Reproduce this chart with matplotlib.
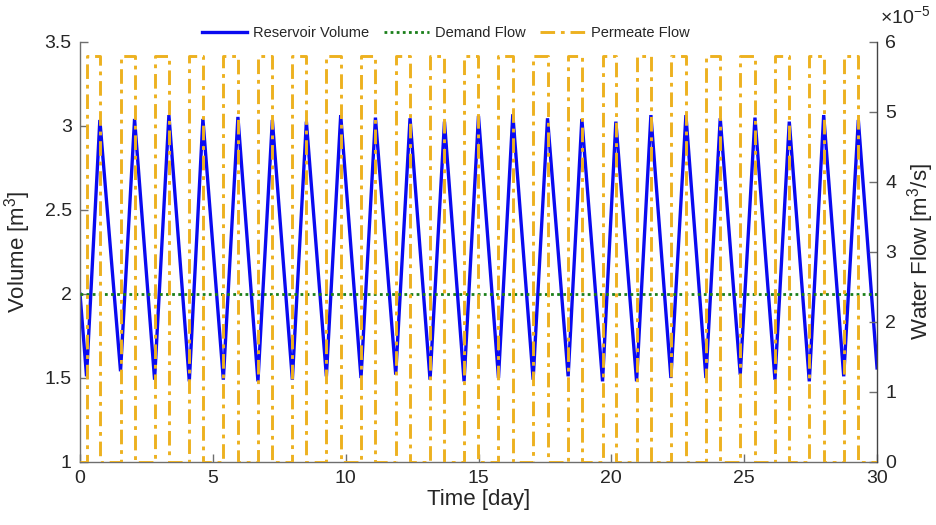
import matplotlib
matplotlib.use("Agg")
import matplotlib.pyplot as plt
from matplotlib.ticker import FuncFormatter
from matplotlib.lines import Line2D

# ---------------- data ----------------
trough_times = [0.245, 1.525, 2.806, 4.113, 5.394, 6.697, 7.992, 9.273, 10.576, 11.883,
                13.175, 14.456, 15.751, 17.055, 18.373, 19.668, 20.949, 22.241, 23.559,
                24.851, 26.158, 27.450, 28.746]
trough_volumes = [1.51, 1.54, 1.49, 1.48, 1.49, 1.48, 1.49, 1.51, 1.50, 1.52,
                  1.49, 1.48, 1.50, 1.49, 1.51, 1.48, 1.48, 1.50, 1.50, 1.52,
                  1.49, 1.48, 1.51]
peak_times = [0.746, 2.053, 3.345, 4.625, 5.943, 7.239, 8.520, 9.812, 11.119, 12.422,
              13.718, 14.998, 16.290, 17.597, 18.889, 20.169, 21.488, 22.806, 24.098,
              25.405, 26.697, 27.992, 29.296]
peak_volumes = [3.036, 3.042, 3.065, 3.042, 3.054, 3.036, 3.026, 3.065, 3.050, 3.046,
                3.026, 3.060, 3.070, 3.046, 3.042, 3.026, 3.065, 3.065, 3.046, 3.050,
                3.026, 3.065, 3.036]
start_time, start_volume = 0.0, 2.0
end_time, end_volume = 30.0, 1.56
demand_flow = 2.4e-5          # m^3/s
permeate_on = 5.8e-5          # m^3/s
permeate_off = 0.0

x_ticks = [0, 5, 10, 15, 20, 25, 30]
vol_ticks = [1, 1.5, 2, 2.5, 3, 3.5]
flow_ticks = [0, 1e-5, 2e-5, 3e-5, 4e-5, 5e-5, 6e-5]

# ---------------- build series ----------------
vol_t = [start_time]
vol_v = [start_volume]
perm_t = [start_time]
perm_v = [permeate_off]
for tt, tv, pt, pv in zip(trough_times, trough_volumes, peak_times, peak_volumes):
    vol_t += [tt, pt]
    vol_v += [tv, pv]
    perm_t += [tt, pt]
    perm_v += [permeate_on, permeate_off]
vol_t.append(end_time)
vol_v.append(end_volume)
perm_t.append(end_time)
perm_v.append(permeate_off)

# ---------------- style ----------------
plt.rcParams['font.family'] = ['Liberation Sans', 'DejaVu Sans']
plt.rcParams['mathtext.fontset'] = 'custom'
plt.rcParams['mathtext.rm'] = 'Liberation Sans'
plt.rcParams['mathtext.it'] = 'Liberation Sans:italic'
txt = '#262626'
spine_c = '#6e6e6e'
blue = '#0a0af0'
green = '#1a7f1a'
orange = '#EDB120'
dashdot = (0, (5, 2.0, 1.3, 2.0))

fig = plt.figure(figsize=(9.36, 5.25), dpi=100)
ax = fig.add_axes([0.0855, 0.12, 0.8515, 0.80])
ax2 = ax.twinx()

ax.plot(vol_t, vol_v, color=blue, lw=2.4, solid_joinstyle='miter', zorder=2)
ax2.axhline(demand_flow, color=green, lw=2.0, ls=(0, (1, 1.2)), zorder=2)
ax2.plot(perm_t, perm_v, color=orange, lw=2.1, drawstyle='steps-post',
         ls=dashdot, zorder=3)

ax.set_xlim(0, 30)
ax.set_ylim(1, 3.5)
ax2.set_ylim(0, 6e-5)
ax.set_xticks(x_ticks)
ax.set_yticks(vol_ticks)
ax2.set_yticks(flow_ticks)
ax.yaxis.set_major_formatter(FuncFormatter(lambda v, p: f'{v:g}'))
ax2.yaxis.set_major_formatter(FuncFormatter(lambda v, p: f'{v * 1e5:.0f}'))

for a in (ax, ax2):
    a.spines['top'].set_visible(False)
    for s in a.spines.values():
        s.set_color(spine_c)
        s.set_linewidth(1.0)
    a.tick_params(direction='in', length=5.5, width=1.0, colors=spine_c,
                  labelcolor=txt, labelsize=14)
ax.spines['right'].set_visible(False)
ax2.spines['left'].set_visible(False)
ax2.spines['bottom'].set_visible(False)
ax2.spines['right'].set_color('#444444')
ax.tick_params(axis='x', pad=6)
ax.tick_params(axis='y', pad=6)
ax2.tick_params(axis='y', pad=6)

ax.set_xlabel('Time [day]', fontsize=16, color=txt, labelpad=1)
ax.set_ylabel('Volume [m$^3$]', fontsize=16, color=txt, labelpad=8)
ax2.set_ylabel('Water Flow [m$^3$/s]', fontsize=16, color=txt, labelpad=6)

fig.text(880 / 936, 1 - 16 / 525, r'$\times$10$^{-5}$', fontsize=14, color=txt,
         ha='left', va='center')

handles = [Line2D([], [], color=blue, lw=2.4),
           Line2D([], [], color=green, lw=2.0, ls=(0, (1, 1.2))),
           Line2D([], [], color=orange, lw=2.1, ls=dashdot)]
labels = ['Reservoir Volume', 'Demand Flow', 'Permeate Flow']
fig.legend(handles, labels, loc='center', bbox_to_anchor=(446 / 936, 1 - 33 / 525),
           ncol=3, frameon=False, fontsize=10.5, handlelength=3.1, columnspacing=1.0,
           handletextpad=0.4, labelcolor=txt)

fig.savefig('out.png', dpi=100)
